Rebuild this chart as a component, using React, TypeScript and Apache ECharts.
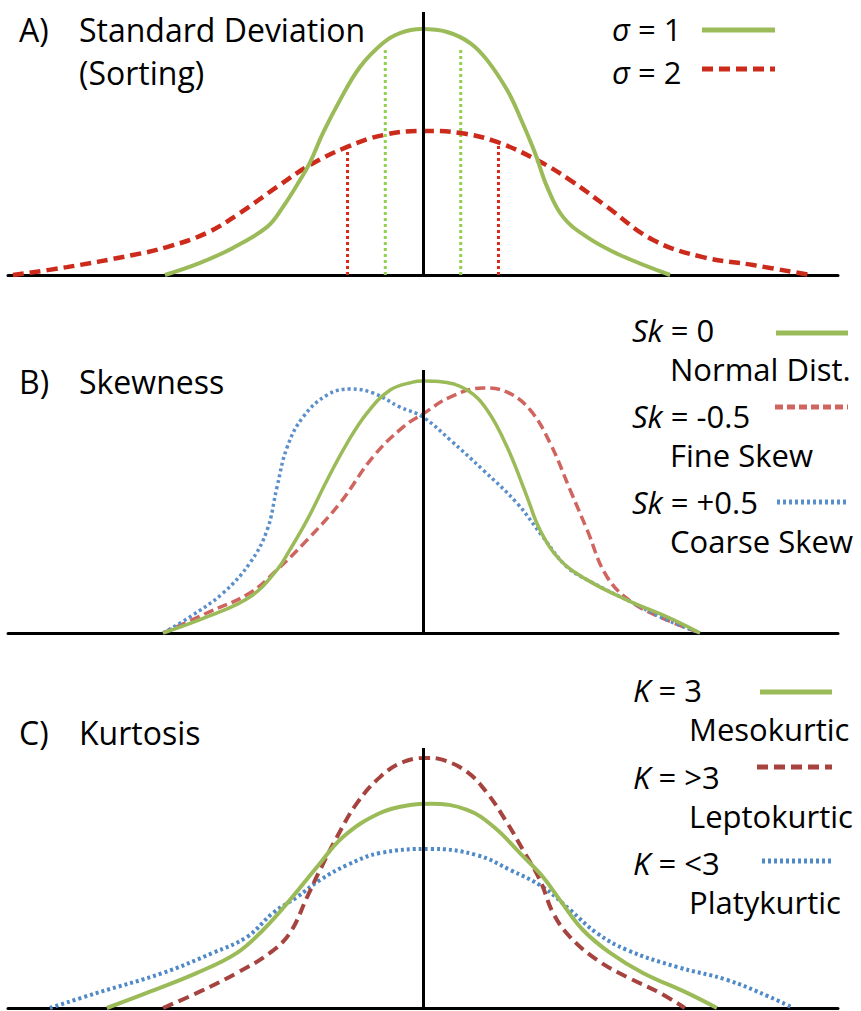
import { useEffect, useRef } from "react";
import * as echarts from "echarts";

// ---- Panel A: standard deviation (sorting) ----
const sigma1Curve: [number, number][] = [
  [-6.84, 0], [-5.91, 4.6], [-5.04, 10.3], [-4.13, 18.3], [-3.71, 25.9], [-3.26, 36.1],
  [-3.0, 42.6], [-2.65, 54.0], [-2.2, 66.5], [-1.67, 79.1], [-1.06, 88.2], [-0.61, 92.0],
  [-0.03, 93.5], [0.64, 92.4], [1.25, 88.2], [1.7, 81.7], [2.23, 70.3], [2.57, 60.1],
  [2.97, 46.4], [3.29, 33.5], [3.71, 22.1], [4.35, 14.4], [5.22, 7.6], [6.55, 0],
];
const sigma2Curve: [number, number][] = [
  [-10.87, 0], [-9.44, 3.0], [-7.69, 7.6], [-6.79, 10.6], [-5.73, 16.0], [-4.85, 23.6],
  [-3.87, 33.5], [-3.0, 41.8], [-2.01, 48.7], [-1.06, 53.2], [-0.03, 54.8], [0.98, 54.0],
  [1.96, 50.6], [3.02, 43.7], [3.9, 36.1], [4.88, 25.9], [6.1, 13.3], [7.42, 6.8],
  [8.75, 3.8], [10.26, 0],
];
// one- and two-sigma markers: [position, height]
const sigma1Marks: [number, number][] = [[-1, 86], [1, 86]];
const sigma2Marks: [number, number][] = [[-2, 47], [2, 50]];

// ---- Panel B: skewness ----
const skZeroCurve: [number, number][] = [
  [-6.89, 0], [-5.73, 6.1], [-4.59, 13.7], [-3.87, 24.0], [-3.53, 31.6], [-3.07, 43.0],
  [-2.54, 58.2], [-2.01, 72.2], [-1.48, 83.7], [-0.87, 92.4], [-0.27, 95.4], [0.0, 95.8],
  [0.53, 95.4], [1.17, 92.4], [1.7, 84.8], [2.23, 70.7], [2.76, 51.7], [3.1, 39.2],
  [3.63, 27.8], [4.35, 20.2], [5.41, 12.5], [6.47, 6.1], [7.34, 0],
];
const skFineCurve: [number, number][] = [
  [-6.89, 0], [-5.73, 7.6], [-4.59, 15.2], [-3.87, 24.0], [-3.07, 35.4], [-2.2, 49.4],
  [-1.33, 66.9], [-0.53, 78.3], [0.0, 83.3], [0.72, 89.7], [1.59, 93.2], [2.23, 91.6],
  [2.84, 84.8], [3.37, 72.2], [3.9, 54.4], [4.35, 39.2], [4.88, 21.3], [5.57, 11.4],
  [6.47, 4.9], [7.34, 0],
];
const skCoarseCurve: [number, number][] = [
  [-6.89, 0], [-6.18, 6.1], [-5.3, 15.2], [-4.59, 26.6], [-4.13, 39.2], [-3.87, 55.5],
  [-3.6, 70.7], [-3.18, 82.1], [-2.54, 90.5], [-1.93, 92.8], [-1.33, 91.3], [-0.61, 85.9],
  [0.0, 82.1], [0.72, 73.4], [1.59, 62.0], [2.49, 49.4], [3.18, 36.5], [3.82, 25.1],
  [4.51, 19.0], [5.57, 11.4], [6.47, 4.9], [7.34, 0],
];

// ---- Panel C: kurtosis ----
const mesoCurve: [number, number][] = [
  [-8.38, 0], [-7.32, 5.8], [-5.99, 13.5], [-4.93, 21.2], [-4.24, 30.0], [-3.53, 41.5],
  [-2.81, 54.2], [-2.12, 65.8], [-1.14, 75.0], [-0.34, 78.1], [0.2, 78.6], [1.17, 76.2],
  [1.88, 69.6], [2.57, 59.6], [3.18, 50.4], [3.63, 41.5], [4.24, 30.0], [4.96, 21.2],
  [5.83, 13.5], [7.0, 5.8], [7.79, 0],
];
const leptoCurve: [number, number][] = [
  [-6.89, 0], [-5.99, 5.8], [-4.93, 13.5], [-4.06, 21.2], [-3.53, 28.8], [-3.07, 42.7],
  [-2.73, 53.1], [-2.28, 65.8], [-1.75, 78.8], [-1.14, 88.8], [-0.53, 94.6], [0.1, 96.2],
  [0.53, 95.4], [1.17, 90.8], [1.7, 82.7], [2.23, 71.2], [2.65, 60.8], [3.1, 49.2],
  [3.45, 36.5], [3.9, 27.3], [4.61, 18.5], [5.41, 11.9], [6.28, 5.8], [6.94, 0],
];
const platyCurve: [number, number][] = [
  [-9.89, 0], [-8.64, 5.8], [-6.89, 13.5], [-5.57, 21.2], [-4.67, 27.3], [-3.98, 36.5],
  [-3.34, 42.7], [-2.73, 49.2], [-2.01, 55.0], [-1.14, 59.6], [0.2, 61.2],
  [1.43, 58.8], [2.31, 53.1], [3.18, 46.5], [3.9, 37.7], [4.61, 28.8], [5.41, 22.3],
  [6.73, 15.8], [8.06, 10.8], [9.2, 4.2], [9.81, 0],
];

// ---- labels ----
const panelTitles = [
  { tag: "A)", lines: ["Standard Deviation", "(Sorting)"] },
  { tag: "B)", lines: ["Skewness"] },
  { tag: "C)", lines: ["Kurtosis"] },
];
const legendA = [
  { sym: "σ", rest: " = 1", note: "" },
  { sym: "σ", rest: " = 2", note: "" },
];
const legendB = [
  { sym: "Sk", rest: " = 0", note: "Normal Dist." },
  { sym: "Sk", rest: " = -0.5", note: "Fine Skew" },
  { sym: "Sk", rest: " = +0.5", note: "Coarse Skew" },
];
const legendC = [
  { sym: "K", rest: " = 3", note: "Mesokurtic" },
  { sym: "K", rest: " = >3", note: "Leptokurtic" },
  { sym: "K", rest: " = <3", note: "Platykurtic" },
];

const FONT = "'Open Sans', 'Noto Sans', sans-serif";
const FS = 31;
const FS_TITLE = 32;
const GREEN = "#9BBB59";
const RED_A = "#CC2A1A";
const RED_B = "#D0645F";
const BLUE_B = "#5B8FCB";
const RED_C = "#A6433E";
const BLUE_C = "#4F89C8";

const panels = [
  { top: 12, height: 263 },
  { top: 370, height: 263 },
  { top: 748, height: 260 },
];

function curve(
  data: [number, number][],
  idx: number,
  color: string,
  width: number,
  type: any,
  withAxis = false
) {
  const s: any = {
    type: "line",
    xAxisIndex: idx,
    yAxisIndex: idx,
    data,
    smooth: 0.4,
    showSymbol: false,
    symbol: "none",
    silent: true,
    lineStyle: { color, width, type, cap: "butt" },
  };
  if (withAxis) {
    s.markLine = {
      silent: true,
      symbol: ["none", "none"],
      label: { show: false },
      lineStyle: { color: "#000", width: 3, type: "solid" },
      data: [{ xAxis: 0 }],
    };
  }
  return s;
}

function marker(m: [number, number], color: string) {
  return {
    type: "line",
    xAxisIndex: 0,
    yAxisIndex: 0,
    data: [[m[0], 0], [m[0], m[1]]],
    showSymbol: false,
    symbol: "none",
    silent: true,
    lineStyle: { color, width: 3, type: [3, 3] },
  };
}

function text(x: number, y: number, content: string, size = FS, rich?: any) {
  return {
    type: "text",
    x,
    y,
    silent: true,
    style: {
      text: content,
      fontFamily: FONT,
      fontSize: size,
      lineHeight: size,
      fill: "#000",
      verticalAlign: "middle",
      textVerticalAlign: "middle",
      rich,
    },
  };
}

function legendEntry(x: number, y: number, e: { sym: string; rest: string }) {
  return text(x, y, `{i|${e.sym}}{n|${e.rest}}`, FS, {
    i: { fontStyle: "italic", fontFamily: FONT, fontSize: FS, lineHeight: FS, fill: "#000" },
    n: { fontFamily: FONT, fontSize: FS, lineHeight: FS, fill: "#000" },
  });
}

function sample(x1: number, x2: number, y: number, color: string, width: number, dash: any) {
  return {
    type: "line",
    silent: true,
    shape: { x1, y1: y, x2, y2: y },
    style: { stroke: color, lineWidth: width, lineDash: dash },
  };
}

export default function App() {
  const ref = useRef<HTMLDivElement>(null);
  useEffect(() => {
    if (!ref.current) return;
    const chart = echarts.init(ref.current, undefined, { renderer: "svg" });

    const grid = panels.map((p) => ({ left: 8, right: 23, top: p.top, height: p.height }));
    const xAxis = panels.map((_, i) => ({
      type: "value",
      gridIndex: i,
      min: -11,
      max: 11,
      axisLine: { show: true, lineStyle: { color: "#000", width: 3 } },
      axisTick: { show: false },
      axisLabel: { show: false },
      splitLine: { show: false },
    }));
    const yAxis = panels.map((_, i) => ({
      type: "value",
      gridIndex: i,
      min: 0,
      max: 100,
      axisLine: { show: false },
      axisTick: { show: false },
      axisLabel: { show: false },
      splitLine: { show: false },
    }));

    const series = [
      ...sigma1Marks.map((m) => marker(m, "#92D050")),
      ...sigma2Marks.map((m) => marker(m, "#D8281A")),
      curve(sigma2Curve, 0, RED_A, 4.5, [11, 6]),
      curve(sigma1Curve, 0, GREEN, 4, "solid", true),
      curve(skFineCurve, 1, RED_B, 3.5, [10, 5]),
      curve(skCoarseCurve, 1, BLUE_B, 3.5, [3, 3]),
      curve(skZeroCurve, 1, GREEN, 3.5, "solid", true),
      curve(platyCurve, 2, BLUE_C, 4, [3, 3]),
      curve(leptoCurve, 2, RED_C, 4, [11, 6]),
      curve(mesoCurve, 2, GREEN, 4, "solid", true),
    ];

    const titleY = [29, 381, 732];
    const graphics: any[] = [];
    panelTitles.forEach((t, i) => {
      graphics.push(text(19, titleY[i], t.tag, FS_TITLE));
      t.lines.forEach((l, k) => graphics.push(text(79, titleY[i] + k * 43, l, FS_TITLE)));
    });

    // legend A
    graphics.push(legendEntry(612, 29, legendA[0]));
    graphics.push(legendEntry(612, 72, legendA[1]));
    graphics.push(sample(702, 775, 30, GREEN, 5, null));
    graphics.push(sample(702, 775, 69, RED_A, 5, [11, 6]));

    // legend B
    const bY = [330, 416, 502];
    legendB.forEach((e, k) => {
      graphics.push(legendEntry(632, bY[k], e));
      graphics.push(text(670, bY[k] + 39, e.note));
    });
    graphics.push(sample(776, 848, 333, GREEN, 5, null));
    graphics.push(sample(775, 848, 407, RED_B, 5, [8, 4]));
    graphics.push(sample(777, 848, 502, BLUE_B, 5, [3, 3]));

    // legend C
    const cY = [690, 777, 863];
    legendC.forEach((e, k) => {
      graphics.push(legendEntry(633, cY[k], e));
      graphics.push(text(689, cY[k] + 39, e.note));
    });
    graphics.push(sample(760, 832, 692, GREEN, 5, null));
    graphics.push(sample(757, 832, 767, RED_C, 5, [11, 6]));
    graphics.push(sample(762, 832, 861, BLUE_C, 5, [3, 3]));

    chart.setOption({
      animation: false,
      backgroundColor: "#fff",
      grid,
      xAxis,
      yAxis,
      series,
      graphic: graphics,
    });
    return () => chart.dispose();
  }, []);

  return (
    <div
      ref={ref}
      style={{ position: "absolute", left: 0, top: 0, width: 861, height: 1011 }}
    />
  );
}
